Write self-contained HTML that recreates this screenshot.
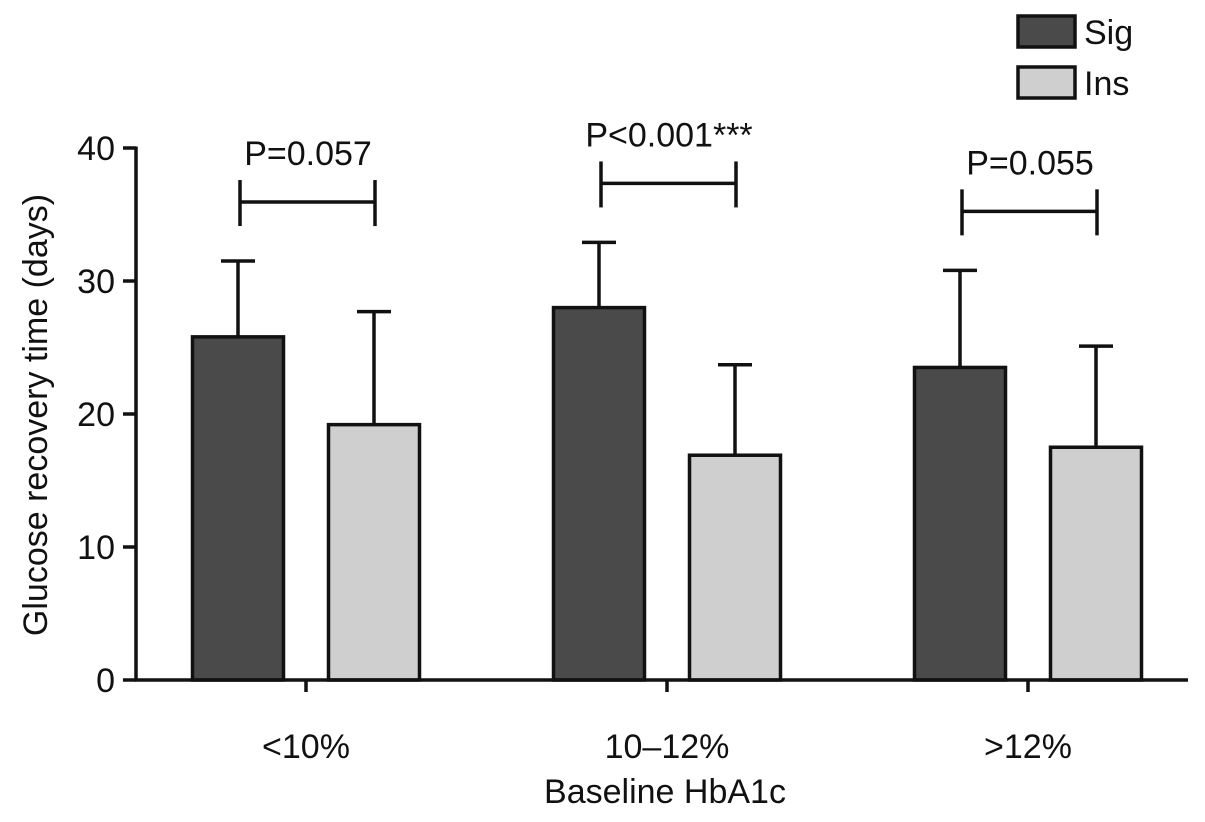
<!DOCTYPE html>
<html><head><meta charset="utf-8"><style>
body{margin:0;background:#fff}
svg text{font-family:"Liberation Sans",Arial,sans-serif;fill:#111}
</style></head><body>
<svg id="chart" width="1205" height="817" viewBox="0 0 1205 817" xmlns="http://www.w3.org/2000/svg"></svg>
<script>
const categories = ["<10%", "10\u201312%", ">12%"];
const sigMeans = [25.8, 28.0, 23.5];
const sigErr = [5.7, 4.9, 7.3];
const insMeans = [19.2, 16.9, 17.5];
const insErr = [8.5, 6.8, 7.6];
const pLabels = ["P=0.057", "P<0.001***", "P=0.055"];
const yTicks = [0, 10, 20, 30, 40];

const svg = document.getElementById('chart');
const NS = 'http://www.w3.org/2000/svg';
const y0 = 680, yTop = 148, yMax = 40;
function yS(v){ return y0 - (y0 - yTop) * v / yMax; }
const groupCenters = [306, 667, 1028];
function xS(i){ return groupCenters[i]; }
function mk(tag, attrs, parent){
  const e = document.createElementNS(NS, tag);
  for (const k in attrs) e.setAttribute(k, attrs[k]);
  (parent || svg).appendChild(e);
  return e;
}
const stroke = '#111', sw = 3.5, fs = 34;

for (let i = 0; i < categories.length; i++) {
  const c = xS(i);
  const series = [[sigMeans[i], sigErr[i], c - 68, '#4a4a4a', 'sig'], [insMeans[i], insErr[i], c + 68, '#cfcfcf', 'ins']];
  for (const [m, e, cx, fill, nm] of series) {
    const w = 91;
    const el = mk('line', {x1: cx, x2: cx, y1: yS(m), y2: yS(m + e), stroke: stroke, 'stroke-width': sw});
    
    
    const cap = mk('line', {x1: cx - 17, x2: cx + 17, y1: yS(m + e), y2: yS(m + e), stroke: stroke, 'stroke-width': sw});
    
    
    const r = mk('rect', {x: cx - w / 2, y: yS(m), width: w, height: y0 - yS(m), fill: fill, stroke: stroke, 'stroke-width': sw});
    
    
  }
  const top = Math.max(sigMeans[i] + sigErr[i], insMeans[i] + insErr[i]);
  const by = yS(top) - 59;
  const bx1 = c - 66, bx2 = c + 69;
  const g = mk('g', {});
  
  
  mk('line', {x1: bx1, x2: bx2, y1: by, y2: by, stroke: stroke, 'stroke-width': sw}, g);
  mk('line', {x1: bx1, x2: bx1, y1: by - 22, y2: by + 24, stroke: stroke, 'stroke-width': sw}, g);
  mk('line', {x1: bx2, x2: bx2, y1: by - 22, y2: by + 24, stroke: stroke, 'stroke-width': sw}, g);
  const t = mk('text', {x: c + 2, y: by - 37, 'text-anchor': 'middle', 'font-size': fs});
  t.textContent = pLabels[i];
  
  
  const xt = mk('line', {x1: c, x2: c, y1: y0, y2: y0 + 12, stroke: stroke, 'stroke-width': sw});
  
  
  const xl = mk('text', {x: c, y: 758, 'text-anchor': 'middle', 'font-size': fs});
  xl.textContent = categories[i];
  
  
}

const ya = mk('line', {x1: 136, x2: 136, y1: yS(yMax) - 1.5, y2: y0 + 1.5, stroke: stroke, 'stroke-width': sw});


const xa = mk('line', {x1: 134.5, x2: 1188, y1: y0, y2: y0, stroke: stroke, 'stroke-width': sw});


for (const v of yTicks) {
  const tk = mk('line', {x1: 123, x2: 136, y1: yS(v), y2: yS(v), stroke: stroke, 'stroke-width': sw});
  
  
  const tl = mk('text', {x: 115, y: yS(v) + 12, 'text-anchor': 'end', 'font-size': fs});
  tl.textContent = v;
  
  
}
const yt = mk('text', {x: 0, y: 0, 'text-anchor': 'middle', 'font-size': fs, transform: 'translate(47,415) rotate(-90)'});
yt.textContent = 'Glucose recovery time (days)';


const xtt = mk('text', {x: 665, y: 803, 'text-anchor': 'middle', 'font-size': fs});
xtt.textContent = 'Baseline HbA1c';



const legend = [['Sig', '#4a4a4a', 16], ['Ins', '#cfcfcf', 67]];
for (const [name, fill, ly] of legend) {
  const g = mk('g', {});
  
  
  mk('rect', {x: 1018, y: ly, width: 57, height: 31, fill: fill, stroke: stroke, 'stroke-width': sw}, g);
  const t = mk('text', {x: 1084, y: ly + 28, 'font-size': fs}, g);
  t.textContent = name;
}
</script>
</body></html>
